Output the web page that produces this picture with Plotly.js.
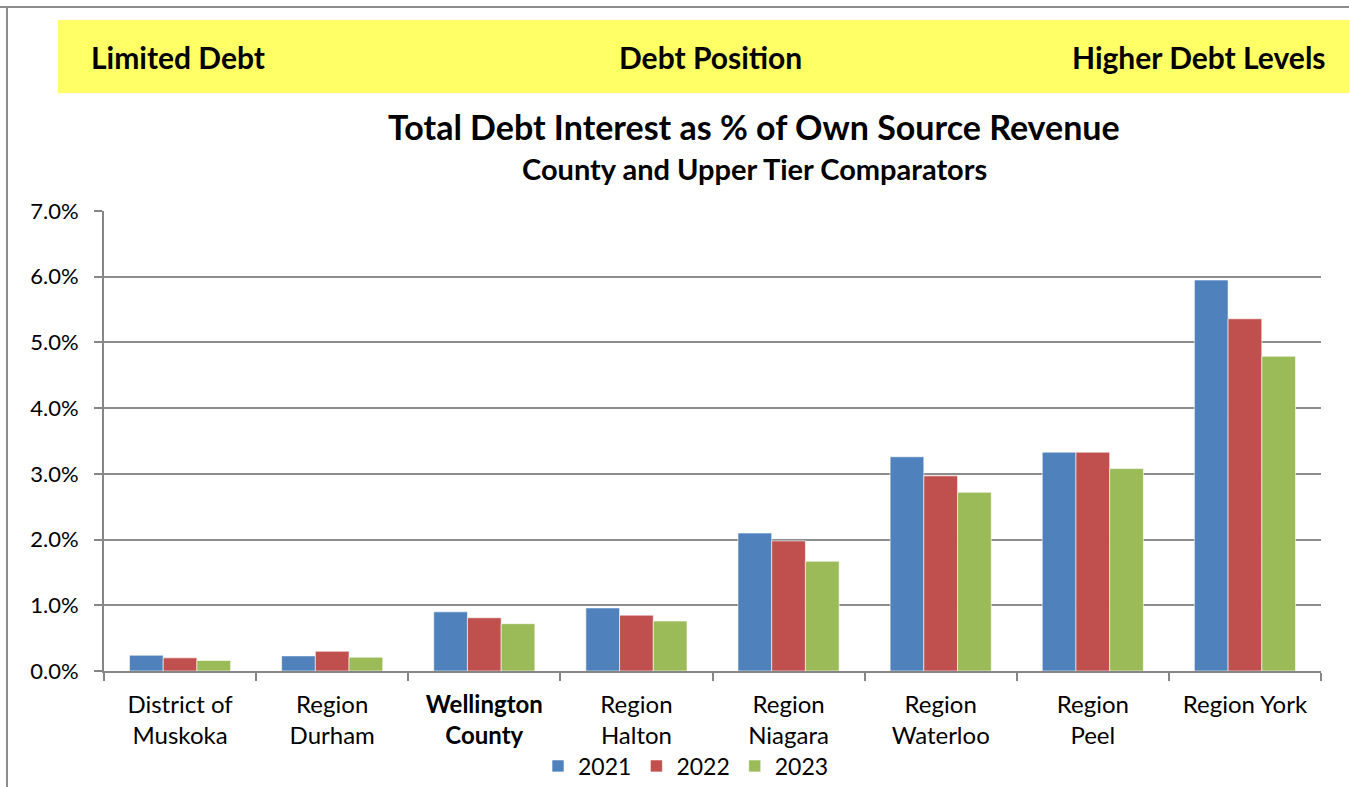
<!DOCTYPE html>
<html>
<head>
<meta charset="utf-8">
<script src="https://cdn.plot.ly/plotly-3.0.1.min.js"></script>
<style>
  html, body { margin: 0; padding: 0; background: #fff; }
  #chart { width: 1349px; height: 787px; }
</style>
</head>
<body>
<div id="chart"></div>
<script>
// categories and values (% of own source revenue)
const categories = [
    "District of<br>Muskoka",
    "Region<br>Durham",
    "<b>Wellington<br>County</b>",
    "Region<br>Halton",
    "Region<br>Niagara",
    "Region<br>Waterloo",
    "Region<br>Peel",
    "Region York"
];
const years = ["2021", "2022", "2023"];
const values2021 = [0.0024, 0.0023, 0.0090, 0.0096, 0.0210, 0.0326, 0.0333, 0.0595];
const values2022 = [0.0020, 0.0030, 0.0081, 0.0085, 0.0198, 0.0297, 0.0333, 0.0536];
const values2023 = [0.0016, 0.0021, 0.0072, 0.0076, 0.0167, 0.0272, 0.0308, 0.0479];
const colors = ["#4F81BD", "#C0504D", "#9BBB59"];

const font = "Lato, 'Open Sans', sans-serif";

// plot area in pixels: left 104, right 1321, top 211, bottom 671
const L = 104, R = 1321, T = 211, B = 671;
const px = x => (x - L) / (R - L);
const py = y => (B - y) / (B - T);

const data = [values2021, values2022, values2023].map((vals, i) => ({
    type: 'bar',
    name: years[i],
    x: categories,
    y: vals,
    marker: {
        color: colors[i],
        line: { color: 'rgba(255,255,255,0.6)', width: 1 }
    },
    hoverinfo: 'x+y+name'
}));

const layout = {
    width: 1349,
    height: 787,
    margin: { l: L, r: 1349 - R, t: T, b: 787 - B, autoexpand: false },
    paper_bgcolor: '#fff',
    plot_bgcolor: '#fff',
    font: { family: font, size: 22, color: '#000' },
    barmode: 'group',
    bargap: 0.335,
    bargroupgap: 0,
    showlegend: true,
    legend: {
        orientation: 'h',
        x: px(686), xanchor: 'center',
        y: py(766), yanchor: 'middle',
        bgcolor: 'rgba(0,0,0,0)',
        font: { size: 23 },
        itemwidth: 30,
        tracegroupgap: 0,
        traceorder: 'normal'
    },
    xaxis: {
        type: 'category',
        automargin: false,
        showline: true,
        linecolor: '#868686',
        linewidth: 2,
        ticks: 'outside',
        tickson: 'boundaries',
        ticklen: 8,
        tickwidth: 2,
        tickcolor: '#868686',
        ticklabelstandoff: 11,
        showgrid: false,
        tickfont: { size: 24 },
        fixedrange: true
    },
    yaxis: {
        range: [0, 0.07],
        dtick: 0.01,
        tickformat: '.1%',
        automargin: false,
        showline: true,
        linecolor: '#868686',
        linewidth: 2,
        ticks: 'outside',
        ticklen: 8,
        tickwidth: 2,
        tickcolor: '#868686',
        ticklabelstandoff: 11,
        showgrid: true,
        gridcolor: '#8c8c8c',
        gridwidth: 2,
        zeroline: false,
        tickfont: { size: 22 },
        fixedrange: true
    },
    shapes: [
        // yellow banner
        { type: 'rect', xref: 'paper', yref: 'paper',
          x0: px(58), x1: px(1352), y0: py(93), y1: py(20),
          fillcolor: '#FFFF66', line: { width: 0 }, layer: 'below' },
        // outer frame lines
        { type: 'line', xref: 'paper', yref: 'paper',
          x0: px(-5), x1: px(1360), y0: py(7), y1: py(7),
          line: { color: '#8c8c8c', width: 2 } },
        { type: 'line', xref: 'paper', yref: 'paper',
          x0: px(7), x1: px(7), y0: py(7), y1: py(800),
          line: { color: '#8c8c8c', width: 2 } }
    ],
    annotations: [
        { xref: 'paper', yref: 'paper', x: px(89), y: py(57), xanchor: 'left', yanchor: 'middle',
          text: '<b>Limited Debt</b>', showarrow: false, font: { size: 30 } },
        { xref: 'paper', yref: 'paper', x: px(710), y: py(57), xanchor: 'center', yanchor: 'middle',
          text: '<b>Debt Position</b>', showarrow: false, font: { size: 30 } },
        { xref: 'paper', yref: 'paper', x: px(1328), y: py(57), xanchor: 'right', yanchor: 'middle',
          text: '<b>Higher Debt Levels</b>', showarrow: false, font: { size: 30 } },
        { xref: 'paper', yref: 'paper', x: px(754), y: py(126), xanchor: 'center', yanchor: 'middle',
          text: '<b>Total Debt Interest as % of Own Source Revenue</b>', showarrow: false, font: { size: 34 } },
        { xref: 'paper', yref: 'paper', x: px(754), y: py(168), xanchor: 'center', yanchor: 'middle',
          text: '<b>County and Upper Tier Comparators</b>', showarrow: false, font: { size: 29 } }
    ]
};

Plotly.newPlot('chart', data, layout, { displayModeBar: false, staticPlot: true });
</script>
</body>
</html>
